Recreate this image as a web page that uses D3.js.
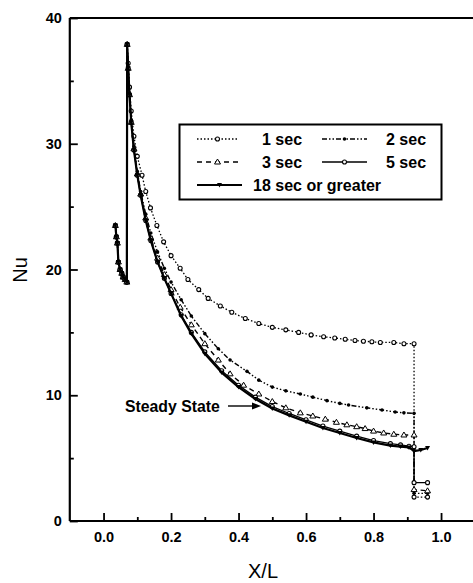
<!DOCTYPE html>
<html><head><meta charset="utf-8">
<script src="https://cdn.jsdelivr.net/npm/d3@7"></script>
<style>body{margin:0;background:#fff}svg{display:block}text{font-family:"Liberation Sans",Arial,sans-serif;font-weight:bold;fill:#000}</style>
</head><body><svg id="c" width="473" height="583"></svg>
<script>
// ---- data ----
const preX  = [0.035,0.038,0.041,0.044,0.049,0.054,0.058,0.064,0.069];
const preNu = [23.5,22.6,22.1,20.6,20.0,19.7,19.4,19.2,19.0];

const x1  = [0.070,0.073,0.077,0.082,0.09,0.1,0.114,0.125,0.139,0.158,0.178,0.2,0.227,0.25,0.282,0.31,0.346,0.38,0.42,0.46,0.5,0.54,0.578,0.615,0.652,0.685,0.716,0.745,0.77,0.795,0.82,0.86,0.89,0.92,0.92,0.96];
const nu1 = [37.9,36.4,34.5,32.6,30.6,29.0,27.5,26.2,24.9,23.5,22.2,21.1,20.1,19.2,18.4,17.7,17.1,16.6,16.1,15.7,15.4,15.2,15.0,14.8,14.65,14.55,14.45,14.35,14.3,14.25,14.2,14.2,14.1,14.1,1.9,1.9];

const x2  = [0.070,0.073,0.077,0.082,0.09,0.1,0.11,0.125,0.14,0.16,0.18,0.2,0.23,0.26,0.3,0.34,0.375,0.425,0.46,0.5,0.54,0.583,0.62,0.662,0.7,0.726,0.78,0.825,0.864,0.89,0.92,0.92,0.96];
const nu2 = [37.9,36.1,34.0,31.9,29.8,27.8,26.2,24.4,22.9,21.4,20.1,19.0,17.6,16.3,14.9,13.7,12.8,11.9,11.2,10.65,10.35,10.1,9.85,9.57,9.35,9.22,9.0,8.83,8.67,8.6,8.56,2.2,2.2];

const x3  = [0.070,0.073,0.077,0.082,0.09,0.1,0.11,0.125,0.14,0.16,0.18,0.2,0.227,0.26,0.3,0.34,0.375,0.415,0.46,0.5,0.54,0.583,0.62,0.657,0.69,0.721,0.75,0.775,0.8,0.83,0.86,0.89,0.92,0.92,0.96];
const nu3 = [37.9,36.0,33.9,31.7,29.6,27.6,26.0,24.1,22.5,20.9,19.6,18.4,17.0,15.6,14.1,12.8,11.7,10.8,10.1,9.5,9.0,8.6,8.35,8.1,7.85,7.65,7.5,7.35,7.15,7.0,6.9,6.84,6.84,2.5,2.4];

const x5  = [0.070,0.073,0.077,0.082,0.09,0.1,0.11,0.125,0.14,0.16,0.18,0.2,0.23,0.26,0.3,0.35,0.4,0.45,0.5,0.55,0.6,0.65,0.7,0.75,0.8,0.85,0.88,0.905,0.92,0.92,0.96];
const nu5 = [37.9,36.0,33.9,31.7,29.5,27.5,25.9,23.9,22.3,20.6,19.3,18.1,16.4,15.0,13.45,11.95,10.8,9.85,9.1,8.55,8.05,7.55,7.15,6.75,6.4,6.15,6.05,5.95,5.9,3.05,3.05];

const x18  = [0.070,0.073,0.077,0.082,0.09,0.1,0.11,0.125,0.14,0.16,0.18,0.2,0.23,0.26,0.3,0.35,0.4,0.45,0.5,0.55,0.6,0.65,0.7,0.75,0.8,0.85,0.88,0.905,0.92,0.94,0.96];
const nu18 = [37.9,36.0,33.9,31.7,29.5,27.5,25.9,23.9,22.3,20.6,19.3,18.1,16.3,14.9,13.3,11.8,10.65,9.7,8.95,8.4,7.9,7.4,7.0,6.6,6.25,6.0,5.92,5.85,5.55,5.65,5.8];

const seriesNames = ["1 sec","2 sec","3 sec","5 sec","18 sec or greater"];
const xTicks = [0.0,0.2,0.4,0.6,0.8,1.0];
const xMinor = [0.1,0.3,0.5,0.7,0.9];
const yTicks = [0,10,20,30,40];
const yMinor = [5,15,25,35];

// ---- chart ----
const svg = d3.select("#c");
const x = d3.scaleLinear().domain([-0.1,1.1]).range([69.8,474.8]);
const y = d3.scaleLinear().domain([0,40]).range([521,18]);

const series = [
  {name:seriesNames[0], xs:x1, ys:nu1, dash:"1.5,2", w:1.3, mk:"circle"},
  {name:seriesNames[1], xs:x2, ys:nu2, dash:"5,2,1.5,2,1.5,2", w:1.4, mk:"dot"},
  {name:seriesNames[2], xs:x3, ys:nu3, dash:"5,4", w:1.4, mk:"tri"},
  {name:seriesNames[3], xs:x5, ys:nu5, dash:null, w:1.3, mk:"circle"},
  {name:seriesNames[4], xs:x18, ys:nu18, dash:null, w:2.2, mk:"dtri"}
];

function marker(g, kind, cx, cy){
  if(kind==="circle") g.append("circle").attr("cx",cx).attr("cy",cy).attr("r",2).attr("fill","#fff").attr("stroke","#000").attr("stroke-width",1.1);
  else if(kind==="dot") g.append("circle").attr("cx",cx).attr("cy",cy).attr("r",1.8).attr("fill","#000");
  else if(kind==="tri") g.append("path").attr("d",`M${cx},${cy-3}L${cx+3},${cy+2}L${cx-3},${cy+2}Z`).attr("fill","#fff").attr("stroke","#000").attr("stroke-width",1);
  else if(kind==="dtri") g.append("path").attr("d",`M${cx-2.5},${cy-2}L${cx+2.5},${cy-2}L${cx},${cy+2.5}Z`).attr("fill","#000");
}

const line = d3.line().x(d=>x(d[0])).y(d=>y(d[1]));
series.forEach(s=>{
  const pts = preX.map((v,i)=>[v,preNu[i]]).concat(s.xs.map((v,i)=>[v,s.ys[i]]));
  svg.append("path").datum(pts).attr("d",line).attr("fill","none").attr("stroke","#000")
    .attr("stroke-width",s.w).attr("stroke-dasharray",s.dash).attr("stroke-linejoin","round");
  const g = svg.append("g");
  pts.forEach(p=>marker(g,s.mk,x(p[0]),y(p[1])));
});

// axes frame
const xAxis = d3.axisBottom(x).tickValues(xTicks).tickFormat(d3.format(".1f")).tickSize(-8).tickPadding(11);
const gx = svg.append("g").attr("transform",`translate(0,${y(0)})`).call(xAxis);
const gxm = svg.append("g").attr("transform",`translate(0,${y(0)})`).call(d3.axisBottom(x).tickValues(xMinor).tickSize(-4).tickFormat(""));
const yAxis = d3.axisLeft(y).tickValues(yTicks).tickFormat(d3.format("d")).tickSize(-8).tickPadding(8);
const gy = svg.append("g").attr("transform",`translate(${x(-0.1)},0)`).call(yAxis);
const gym = svg.append("g").attr("transform",`translate(${x(-0.1)},0)`).call(d3.axisLeft(y).tickValues(yMinor).tickSize(-4).tickFormat(""));
[gx,gxm,gy,gym].forEach(g=>{g.selectAll(".domain").attr("stroke-width",2.2);g.selectAll(".tick line").attr("stroke-width",1.8);});
gxm.select(".domain").remove(); gym.select(".domain").remove();
gx.selectAll(".domain").attr("d",`M${x(-0.1)},0H${x(1.1)}`);
gy.selectAll(".domain").attr("d",`M0,${y(0)}V${y(40)}`);
gx.selectAll("text").attr("font-size",14.5).attr("font-family","Liberation Sans, Arial").attr("font-weight","bold");
gy.selectAll("text").attr("font-size",14.5).attr("font-family","Liberation Sans, Arial").attr("font-weight","bold");
svg.append("line").attr("x1",x(-0.1)).attr("x2",x(1.1)).attr("y1",y(40)).attr("y2",y(40)).attr("stroke","#000").attr("stroke-width",2.2);
svg.append("line").attr("x1",x(1.1)).attr("x2",x(1.1)).attr("y1",y(40)).attr("y2",y(0)).attr("stroke","#000").attr("stroke-width",2.2);

// axis titles
svg.append("text").attr("x",263).attr("y",577.5).attr("text-anchor","middle").attr("font-size",20).style("font-weight","normal").text("X/L");
svg.append("text").attr("transform","translate(27,270) rotate(-90)").attr("text-anchor","middle").attr("font-size",20).style("font-weight","normal").text("Nu");

// legend
const lg = svg.append("g");
lg.append("rect").attr("x",179.5).attr("y",124.5).attr("width",262).attr("height",75).attr("fill","#fff").attr("stroke","#000").attr("stroke-width",2);
const pos = [[197,139,238,262],[322,139,367,386],[197,162,238,262],[322,162,367,386],[197,185,242,253]];
series.forEach((s,i)=>{
  const [a,yy,b,tx]=pos[i];
  lg.append("line").attr("x1",a).attr("x2",b).attr("y1",yy).attr("y2",yy).attr("stroke","#000").attr("stroke-width",s.w).attr("stroke-dasharray",s.dash);
  marker(lg,s.mk,(a+b)/2,yy);
  lg.append("text").attr("x",tx).attr("y",yy+5.5).attr("font-size",16).text(s.name);
});

// annotation
svg.append("text").attr("x",125).attr("y",412).attr("font-size",15.8).text("Steady State");
svg.append("line").attr("x1",228).attr("x2",254).attr("y1",406).attr("y2",406).attr("stroke","#000").attr("stroke-width",1.4);
svg.append("path").attr("d","M261,406L252,402.5L252,409.5Z").attr("fill","#000");
</script></body></html>
